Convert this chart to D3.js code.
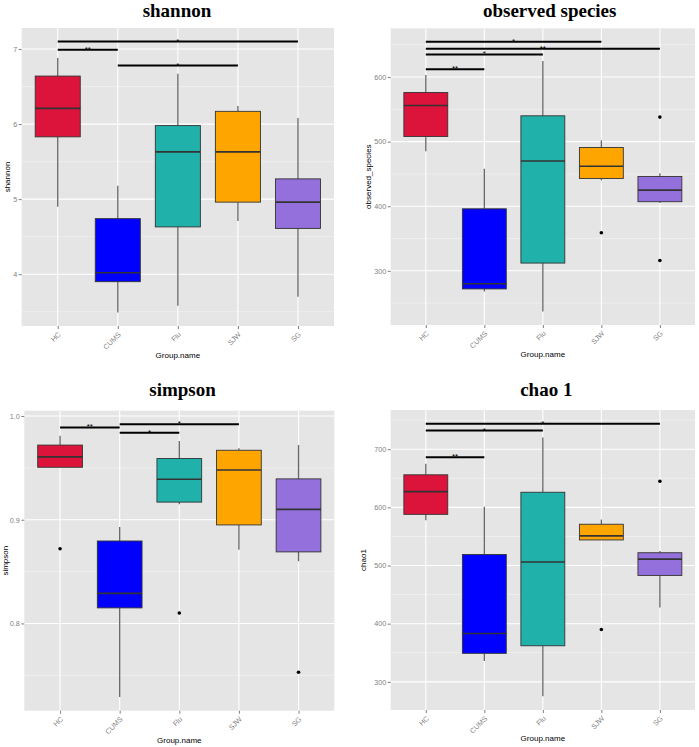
<!DOCTYPE html>
<html>
<head>
    <meta charset="utf-8">
    <title>Alpha diversity boxplots</title>
    <style>
        body { margin: 0; background: #fff; }
        svg { display: block; }
    </style>
    <script src="https://cdnjs.cloudflare.com/ajax/libs/d3/7.8.5/d3.min.js"></script>
</head>
<body>
    <script>
        const width = 699
        const height = 747

        const groups = ["HC", "CUMS", "Flu", "SJW", "SG"]
        const groupColors = ["#DC143C", "#0000FF", "#20B2AA", "#FFA500", "#9370DB"]

        // per group: [lower whisker, Q1, median, Q3, upper whisker]
        const shannonBoxes = [
            [4.90, 5.83, 6.21, 6.64, 6.88],
            [3.49, 3.90, 4.02, 4.74, 5.18],
            [3.58, 4.63, 5.63, 5.98, 6.67],
            [4.71, 4.96, 5.63, 6.17, 6.24],
            [3.70, 4.61, 4.96, 5.27, 6.08]
        ]
        const shannonOutliers = [[], [], [], [], []]
        const shannonSig = [
            ["HC", "SG", 7.10, "*"],
            ["HC", "CUMS", 6.99, "**"],
            ["CUMS", "SJW", 6.78, "*"]
        ]
        const shannonTicks = [4, 5, 6, 7]

        const observedBoxes = [
            [485, 508, 556, 576, 603],
            [268, 272, 280, 396, 458],
            [237, 312, 470, 540, 625],
            [440, 443, 462, 491, 502],
            [405, 407, 425, 446, 451]
        ]
        const observedOutliers = [[], [], [], [359], [538, 316]]
        const observedSig = [
            ["HC", "SJW", 654.6, "*"],
            ["HC", "SG", 644, "**"],
            ["HC", "Flu", 635, "*"],
            ["HC", "CUMS", 612, "**"]
        ]
        const observedTicks = [300, 400, 500, 600]

        const simpsonBoxes = [
            [0.9506, 0.9506, 0.9606, 0.972, 0.981],
            [0.729, 0.815, 0.829, 0.8795, 0.893],
            [0.915, 0.917, 0.939, 0.959, 0.976],
            [0.871, 0.895, 0.948, 0.967, 0.969],
            [0.860, 0.869, 0.910, 0.9394, 0.972]
        ]
        const simpsonOutliers = [[0.872], [], [0.810], [], [0.753]]
        const simpsonSig = [
            ["HC", "CUMS", 0.989, "**"],
            ["CUMS", "SJW", 0.992, "*"],
            ["CUMS", "Flu", 0.984, "*"]
        ]
        const simpsonTicks = [0.8, 0.9, 1.0]

        const chaoBoxes = [
            [578, 588, 627, 656, 675],
            [336, 349, 383, 519, 601],
            [275, 362, 506, 626, 720],
            [544, 544, 551, 571, 579],
            [428, 483, 511, 522, 525]
        ]
        const chaoOutliers = [[], [], [], [390], [645]]
        const chaoSig = [
            ["HC", "SG", 744, "*"],
            ["HC", "Flu", 732, "*"],
            ["HC", "CUMS", 686, "**"]
        ]
        const chaoTicks = [300, 400, 500, 600, 700]

        const panels = [
            {title: "shannon", ylab: "shannon", boxes: shannonBoxes, outliers: shannonOutliers, sig: shannonSig,
             ticks: shannonTicks, fmt: d3.format("d"),
             left: 21.7, top: 28, right: 334, bottom: 326, titleX: 177, titleY: 17, ylabX: 7, xlabY: 355},
            {title: "observed species", ylab: "observed_species", boxes: observedBoxes, outliers: observedOutliers, sig: observedSig,
             ticks: observedTicks, fmt: d3.format("d"),
             left: 390.7, top: 28.3, right: 695, bottom: 325, titleX: 549.7, titleY: 17, ylabX: 368.3, xlabY: 354},
            {title: "simpson", ylab: "simpson", boxes: simpsonBoxes, outliers: simpsonOutliers, sig: simpsonSig,
             ticks: simpsonTicks, fmt: d3.format(".1f"),
             left: 24.3, top: 410.7, right: 334.3, bottom: 710.7, titleX: 182.5, titleY: 396, ylabX: 5.5, xlabY: 740},
            {title: "chao 1", ylab: "chao1", boxes: chaoBoxes, outliers: chaoOutliers, sig: chaoSig,
             ticks: chaoTicks, fmt: d3.format("d"),
             left: 390.7, top: 410, right: 695, bottom: 710, titleX: 546.3, titleY: 396, ylabX: 363, xlabY: 738.5}
        ]

        let svg = d3.select("body").append("svg")
            .attr("width", width)
            .attr("height", height)

        panels.forEach(drawPanel)

        function drawPanel(p) {
            let g = svg.append("g")

            // y domain: data range plus 5% each side, like ggplot
            let vals = p.boxes.flat().concat(p.outliers.flat(), p.sig.map(s => s[2]))
            let [lo, hi] = d3.extent(vals)
            let pad = (hi - lo) * 0.05
            let y = d3.scaleLinear().domain([lo - pad, hi + pad]).range([p.bottom, p.top])
            let x = d3.scalePoint().domain(groups).range([p.left, p.right]).padding(0.6)
            let bw = x.step() * 0.75

            g.append("rect")
                .attr("x", p.left).attr("y", p.top)
                .attr("width", p.right - p.left).attr("height", p.bottom - p.top)
                .attr("fill", "#E5E5E5")

            let step = p.ticks[1] - p.ticks[0]
            let minor = d3.range(p.ticks[0] - step / 2, hi + pad, step).filter(v => v >= lo - pad)
            g.selectAll(".minor")
                .data(minor)
                .enter().append("line")
                    .attr("x1", p.left).attr("x2", p.right)
                    .attr("y1", d => y(d)).attr("y2", d => y(d))
                    .attr("stroke", "#F2F2F2")
                    .attr("stroke-width", 0.7)
            g.selectAll(".major")
                .data(p.ticks)
                .enter().append("line")
                    .attr("x1", p.left).attr("x2", p.right)
                    .attr("y1", d => y(d)).attr("y2", d => y(d))
                    .attr("stroke", "#fff")
                    .attr("stroke-width", 1.1)
            g.selectAll(".vgrid")
                .data(groups)
                .enter().append("line")
                    .attr("x1", d => x(d)).attr("x2", d => x(d))
                    .attr("y1", p.top).attr("y2", p.bottom)
                    .attr("stroke", "#fff")
                    .attr("stroke-width", 1.1)

            let box = g.selectAll(".box")
                .data(p.boxes.map((b, i) => ({g: groups[i], b: b, c: groupColors[i]})))
                .enter().append("g")

            box.append("line")
                .attr("x1", d => x(d.g)).attr("x2", d => x(d.g))
                .attr("y1", d => y(d.b[0])).attr("y2", d => y(d.b[1]))
                .attr("stroke", "#666").attr("stroke-width", 1.3)
            box.append("line")
                .attr("x1", d => x(d.g)).attr("x2", d => x(d.g))
                .attr("y1", d => y(d.b[3])).attr("y2", d => y(d.b[4]))
                .attr("stroke", "#666").attr("stroke-width", 1.3)
            box.append("rect")
                .attr("x", d => x(d.g) - bw / 2)
                .attr("y", d => y(d.b[3]))
                .attr("width", bw)
                .attr("height", d => y(d.b[1]) - y(d.b[3]))
                .attr("fill", d => d.c)
                .attr("stroke", "#333")
                .attr("stroke-width", 0.9)
            box.append("line")
                .attr("x1", d => x(d.g) - bw / 2).attr("x2", d => x(d.g) + bw / 2)
                .attr("y1", d => y(d.b[2])).attr("y2", d => y(d.b[2]))
                .attr("stroke", "#333").attr("stroke-width", 1.6)

            let pts = []
            p.outliers.forEach((o, i) => o.forEach(v => pts.push([groups[i], v])))
            g.selectAll(".outlier")
                .data(pts)
                .enter().append("circle")
                    .attr("cx", d => x(d[0]))
                    .attr("cy", d => y(d[1]))
                    .attr("r", 1.8)
                    .attr("fill", "#000")

            g.selectAll(".sig")
                .data(p.sig)
                .enter().append("line")
                    .attr("x1", d => x(d[0])).attr("x2", d => x(d[1]))
                    .attr("y1", d => y(d[2])).attr("y2", d => y(d[2]))
                    .attr("stroke", "#000")
                    .attr("stroke-width", 2)
            g.selectAll(".star")
                .data(p.sig)
                .enter().append("text")
                    .attr("x", d => (x(d[0]) + x(d[1])) / 2)
                    .attr("y", d => y(d[2]) + 2)
                    .attr("text-anchor", "middle")
                    .attr("font-family", "Liberation Sans, Arial, sans-serif")
                    .attr("font-size", 8)
                    .attr("fill", "#000")
                    .text(d => d[3])

            let yAxis = g.append("g")
                .attr("transform", `translate(${p.left}, 0)`)
                .call(d3.axisLeft(y).tickValues(p.ticks).tickFormat(p.fmt).tickSize(3).tickPadding(1.5))
            let xAxis = g.append("g")
                .attr("transform", `translate(0, ${p.bottom})`)
                .call(d3.axisBottom(x).tickSize(3))
            ;[yAxis, xAxis].forEach(a => {
                a.select(".domain").remove()
                a.selectAll(".tick line").attr("stroke", "#7f7f7f")
                a.selectAll("text")
                    .attr("fill", "#7f7f7f")
                    .attr("font-family", "Liberation Sans, Arial, sans-serif")
                    .attr("font-size", 7.2)
            })
            xAxis.selectAll("text")
                .attr("y", 0).attr("dy", 0)
                .attr("text-anchor", "end")
                .attr("transform", "translate(3, 9) rotate(-45)")

            g.append("text")
                .attr("x", p.titleX).attr("y", p.titleY)
                .attr("text-anchor", "middle")
                .attr("font-family", "Liberation Serif, Times New Roman, serif")
                .attr("font-weight", "bold")
                .attr("font-size", 19)
                .text(p.title)

            g.append("text")
                .attr("x", (p.left + p.right) / 2).attr("y", p.xlabY)
                .attr("dy", "0.35em")
                .attr("text-anchor", "middle")
                .attr("font-family", "Liberation Sans, Arial, sans-serif")
                .attr("font-size", 8)
                .text("Group.name")

            g.append("text")
                .attr("transform", `translate(${p.ylabX}, ${(p.top + p.bottom) / 2}) rotate(-90)`)
                .attr("dy", "0.35em")
                .attr("text-anchor", "middle")
                .attr("font-family", "Liberation Sans, Arial, sans-serif")
                .attr("font-size", 8)
                .text(p.ylab)
        }
    </script>
</body>
</html>
